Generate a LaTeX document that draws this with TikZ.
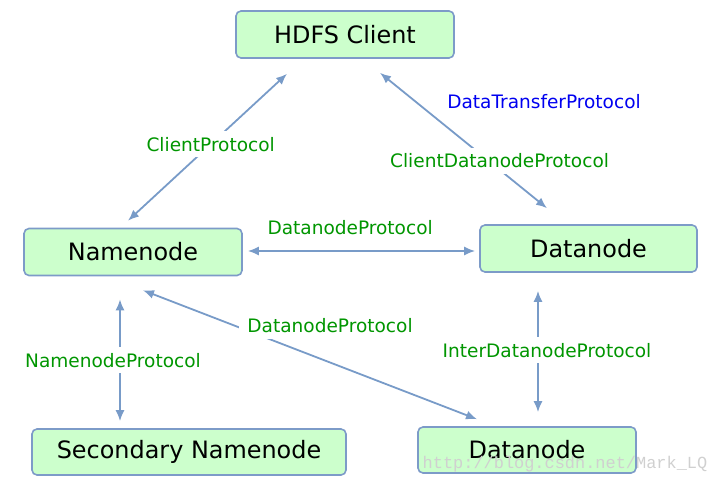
\documentclass[tikz,border=0pt]{standalone}
\usepackage{fontspec}
\setmainfont{DejaVu Sans}
\newfontfamily\wmfont{Liberation Mono}
\usetikzlibrary{arrows.meta}
\definecolor{boxfill}{RGB}{204,255,204}
\definecolor{boxline}{RGB}{125,155,200}
\definecolor{lineblue}{RGB}{120,155,200}
\definecolor{lblgreen}{RGB}{0,150,0}
\definecolor{lblblue}{RGB}{0,0,240}
\definecolor{wmgray}{RGB}{208,208,208}
\begin{document}
\begin{tikzpicture}[x=1bp,y=-1bp,>={Latex[length=11bp,width=9bp]},
	box/.style={draw=boxline,line width=1.6bp,fill=boxfill,rounded corners=5bp,minimum width=218bp,minimum height=47bp,font=\fontsize{24}{27}\selectfont},
	link/.style={<->,draw=lineblue,line width=1.8bp},
	lbl/.style={fill=white,text=lblgreen,font=\fontsize{18.6}{21}\selectfont,inner xsep=8bp,inner ysep=6bp}]
	\useasboundingbox (0,0) rectangle (719,485);
	\node[box] (client) at (345,34.5) {HDFS Client};
	\node[box] (nn) at (133,252) {Namenode};
	\node[box,minimum width=217bp] (dn1) at (588.5,248.5) {Datanode};
	\node[box,minimum width=314bp,minimum height=46bp] (snn) at (189,452) {Secondary Namenode};
	\node[box,minimum width=218bp,minimum height=46bp] (dn2) at (527,450) {Datanode};
	\draw[link] ([shift={(-5,-7)}]nn.north) -- node[lbl,pos=0.52] (cp) {ClientProtocol} ([shift={(-58,15)}]client.south);
	\draw[link] ([shift={(35,14)}]client.south) -- node[lbl,pos=0.65,xshift=11bp] (cdp) {ClientDatanodeProtocol} ([shift={(-41.5,-16)}]dn1.north);
	\node[text=lblblue,font=\fontsize{18.6}{21}\selectfont] (dtp) at (544,102) {DataTransferProtocol};
	\draw[link] ([shift={(5,-1)}]nn.east) -- node[lbl,pos=0.45,yshift=23bp] (dp1) {DatanodeProtocol} ([shift={(-4,2.5)}]dn1.west);
	\draw[link] ([shift={(-13,23)}]nn.south) -- node[lbl,pos=0.5,xshift=-7bp] (np) {NamenodeProtocol} ([shift={(-69,-7)}]snn.north);
	\draw[link] ([shift={(10,14)}]nn.south) -- node[lbl,pos=0.56,yshift=37bp] (dp2) {DatanodeProtocol} ([shift={(-50,-7)}]dn2.north);
	\draw[link] ([shift={(-50.5,18)}]dn1.south) -- node[lbl,pos=0.49,xshift=9bp] (idp) {InterDatanodeProtocol} ([shift={(11,-14)}]dn2.north);
	% watermark
	\node[text=wmgray,font=\wmfont\fontsize{17}{19}\selectfont] (wm) at (565,464) {http://blog.csdn.net/Mark\_LQ};
\end{tikzpicture}
\end{document}
